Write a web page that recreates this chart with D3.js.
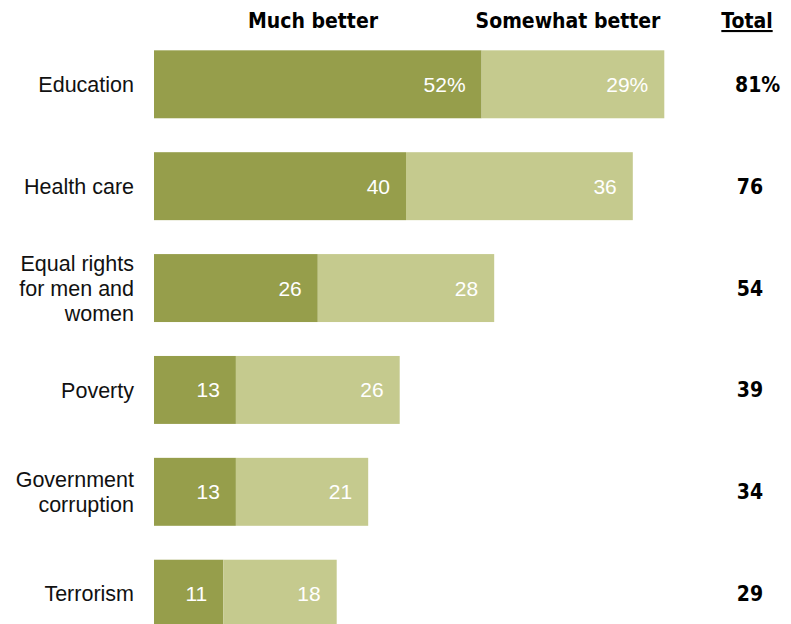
<!DOCTYPE html>
<html>
<head>
<meta charset="utf-8">
<script src="https://cdn.jsdelivr.net/npm/d3@7"></script>
<style>
  html, body { margin: 0; padding: 0; background: #fff; }
  svg { display: block; }
</style>
</head>
<body>
<script>
// Share saying each area has gotten better
const categories = ["Education", "Health care", "Equal rights\nfor men and\nwomen", "Poverty", "Government\ncorruption", "Terrorism"];
const muchBetter = [52, 40, 26, 13, 13, 11];
const somewhatBetter = [29, 36, 28, 26, 21, 18];
const totals = [81, 76, 54, 39, 34, 29];
const seriesNames = ["Much better", "Somewhat better"];
const totalHeader = "Total";

const W = 791, H = 624;
const colors = ["#969e4b", "#c5ca8e"];
const labelFont = "'Liberation Sans', Arial, sans-serif";
const headFont = "'Liberation Sans Narrow', 'DejaVu Sans Condensed', Arial, sans-serif";

const svg = d3.select("body").append("svg").attr("width", W).attr("height", H);

const x = d3.scaleLinear().domain([0, 100]).range([154, 154 + 630]);
const y = d3.scaleBand().domain(d3.range(categories.length)).range([33, 645]).paddingInner(0.333).paddingOuter(0.17);

const rows = svg.selectAll("g.row").data(categories).join("g")
  .attr("class", "row")
  .attr("transform", (d, i) => `translate(0,${y(i)})`);

const bh = y.bandwidth();

// stacked segments
rows.each(function (d, i) {
  const g = d3.select(this);
  const segs = [
    { x0: 0, x1: muchBetter[i], v: muchBetter[i], c: colors[0] },
    { x0: muchBetter[i], x1: muchBetter[i] + somewhatBetter[i], v: somewhatBetter[i], c: colors[1] }
  ];
  g.selectAll("rect").data(segs).join("rect")
    .attr("x", s => x(s.x0))
    .attr("width", s => x(s.x1) - x(s.x0))
    .attr("y", 0)
    .attr("height", bh)
    .attr("fill", s => s.c);
  g.selectAll("text.val").data(segs).join("text")
    .attr("class", "val")
    .attr("x", s => x(s.x1) - 16)
    .attr("y", bh / 2)
    .attr("dy", "0.36em")
    .attr("text-anchor", "end")
    .attr("fill", "#fff")
    .attr("font-family", labelFont)
    .attr("font-size", 21)
    .text((s, j) => i === 0 ? s.v + "%" : s.v);

  // category label, possibly multi-line
  const lines = d.split("\n");
  const lh = 25;
  const t = g.append("text")
    .attr("text-anchor", "end")
    .attr("font-family", labelFont)
    .attr("font-size", 21.5)
    .attr("fill", "#111");
  lines.forEach((ln, k) => {
    t.append("tspan")
      .attr("x", 134)
      .attr("y", bh / 2 + (k - (lines.length - 1) / 2) * lh)
      .attr("dy", "0.36em")
      .text(ln);
  });

  // total
  g.append("text")
    .attr("x", i === 0 ? 735 : 750)
    .attr("y", bh / 2)
    .attr("dy", "0.36em")
    .attr("text-anchor", i === 0 ? "start" : "middle")
    .attr("font-family", headFont)
    .attr("font-weight", "bold")
    .attr("font-size", 21)
    .attr("fill", "#000")
    .text(i === 0 ? totals[i] + "%" : totals[i]);
});

// column headers
const headX = [313, 568];
svg.selectAll("text.head").data(seriesNames).join("text")
  .attr("class", "head")
  .attr("x", (d, i) => headX[i])
  .attr("y", 28)
  .attr("text-anchor", "middle")
  .attr("font-family", headFont)
  .attr("font-weight", "bold")
  .attr("font-size", 21)
  .attr("fill", "#000")
  .text(d => d);

svg.append("text")
  .attr("x", 747)
  .attr("y", 28)
  .attr("text-anchor", "middle")
  .attr("font-family", headFont)
  .attr("font-weight", "bold")
  .attr("font-size", 21)
  .attr("text-decoration", "underline")
  .attr("fill", "#000")
  .text(totalHeader);
</script>
</body>
</html>
